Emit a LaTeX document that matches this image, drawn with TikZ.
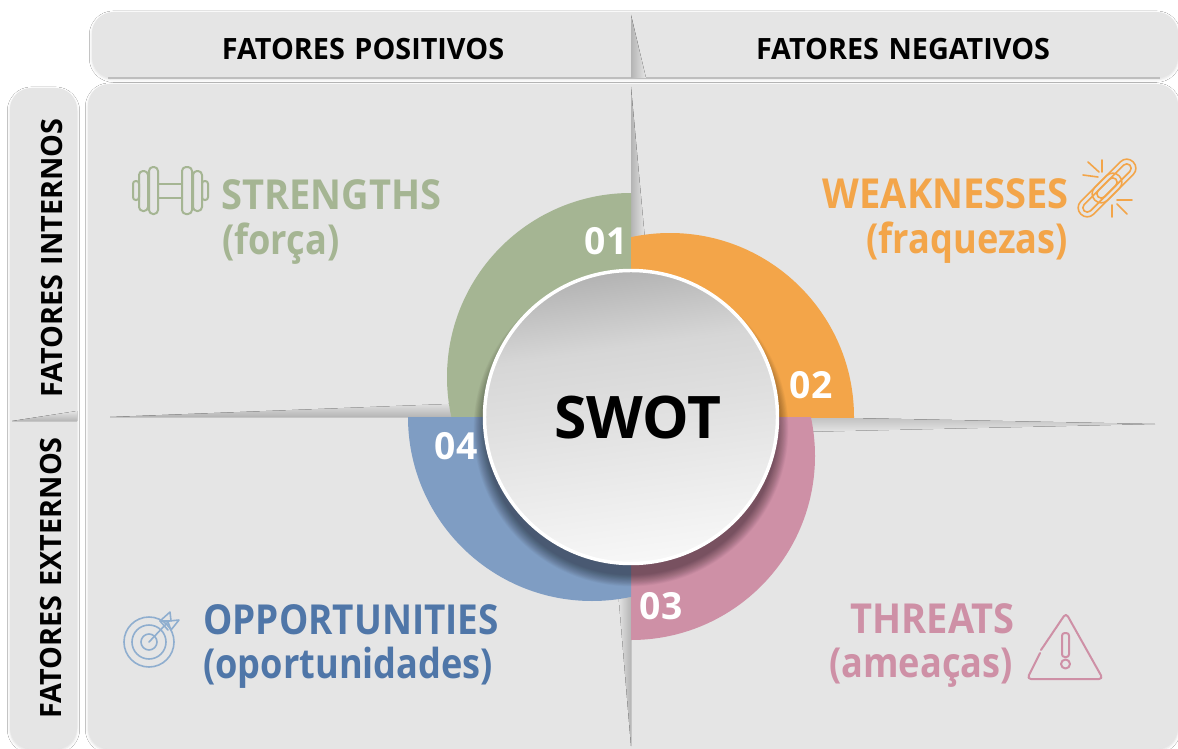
\documentclass[tikz,border=0pt]{standalone}
\usepackage{fontspec}
\setmainfont{Open Sans}
\newfontfamily\headfont[FakeStretch=0.98]{Open Sans}
\newfontfamily\capsfont[FakeStretch=0.92]{Open Sans}
\newfontfamily\oppfont[FakeStretch=0.893]{Open Sans}
\newfontfamily\lowerfont[FakeStretch=0.875]{Open Sans}
\usetikzlibrary{positioning,shadows.blur,calc}
\definecolor{panelgray}{HTML}{E5E5E5}
\definecolor{creasegray}{HTML}{B4B4B4}
\definecolor{sgreen}{HTML}{A5B593}
\definecolor{worange}{HTML}{F3A549}
\definecolor{tpink}{HTML}{CE90A6}
\definecolor{oblue}{HTML}{7F9DC3}
\definecolor{oblueText}{HTML}{4F76A8}
\definecolor{oblueIcon}{HTML}{8FAECF}
\pgfdeclareverticalshading{discshade}{100bp}{color(0bp)=(white!97!black); color(25bp)=(white!97!black); color(50bp)=(white!88!black); color(62bp)=(white!84!black); color(75bp)=(white!70!black); color(100bp)=(white!70!black)}
\newcommand{\wordgap}{\hspace{0.33em}}
\tikzset{
  panel/.style={fill=panelgray,rounded corners=16pt,blur shadow={shadow xshift=0pt,shadow yshift=-1.2pt,shadow blur radius=2pt,shadow opacity=13}},
  headtext/.style={font=\headfont\bfseries\fontsize{22}{26}\selectfont,text=black,inner sep=0pt},
  capstext/.style={font=\capsfont\bfseries\fontsize{31}{37}\selectfont,inner sep=0pt},
  lowertext/.style={font=\lowerfont\bfseries\fontsize{31}{37}\selectfont,inner sep=0pt},
  numtext/.style={font=\bfseries\fontsize{28}{32}\selectfont,text=white,inner sep=0pt},
  icon/.style={line width=1.5pt,line cap=round,line join=round},
}
\begin{document}
\begin{tikzpicture}[x=0.75pt,y=-0.75pt]
  \useasboundingbox (0,0) rectangle (1178,749);
  \fill[white] (0,0) rectangle (1178,749);
  \clip (0,0) rectangle (1178,749);

  \path[panel] (92,12) rectangle (1178,78);
  \path[panel] (10,88) rectangle (77,749);
  \path[panel] (88,84) rectangle (1178,749);
  \draw[creasegray!80!panelgray,line width=0.8pt] (108,78) -- (1160,78);

  \fill[left color=creasegray,right color=panelgray] (631,15) -- (631,78) -- (646,78) -- cycle;
  \fill[left color=creasegray,right color=panelgray] (631,87) -- (631,240) -- (645,240) -- cycle;
  \fill[left color=panelgray,right color=creasegray] (631,590) -- (631,746) -- (618,590) -- cycle;
  \fill[top color=panelgray,bottom color=creasegray] (110,417) -- (500,417) -- (500,402) -- cycle;
  \fill[top color=creasegray!75!panelgray,bottom color=panelgray] (800,417) -- (1155,424) -- (800,432) -- cycle;
  \fill[top color=panelgray,bottom color=creasegray] (12,421) -- (77,421) -- (77,411) -- cycle;

  \begin{scope}
    \clip (400,150) rectangle (631,417);
    \fill[sgreen] (631,377) circle[radius=184];
  \end{scope}
  \begin{scope}
    \clip (631,200) rectangle (880,417);
    \fill[worange] (670,417) circle[radius=184];
  \end{scope}
  \begin{scope}
    \clip (631,417) rectangle (830,660);
    \fill[tpink] (631,456) circle[radius=184];
  \end{scope}
  \begin{scope}
    \clip (380,417) rectangle (631,620);
    \fill[oblue] (592,417) circle[radius=184];
  \end{scope}

  \foreach \r in {146,146.6,...,158}
    \fill[black,opacity=0.022] (631,429) circle[radius=\r];

  \path[draw=white,line width=2.6pt,shading=discshade,shading angle=8] (631,417) circle[radius=146.5];

  \node[headtext] (positivos) at (363,49) {FATORES\wordgap POSITIVOS};
  \node[headtext] (negativos) at (903,49) {FATORES\wordgap NEGATIVOS};
  \node[headtext,rotate=90] (internos) at (52,258) {FATORES\wordgap INTERNOS};
  \node[headtext,rotate=90] (externos) at (51,578) {FATORES\wordgap EXTERNOS};

  \node[capstext,text=sgreen,anchor=base west] (strengths) at (221,209) {STRENGTHS};
  \node[lowertext,text=sgreen,anchor=base west] (forca) at (222,254) {(força)};
  \node[capstext,text=worange,anchor=base east] (weak) at (1069,208) {WEAKNESSES};
  \node[lowertext,text=worange,anchor=base east] (fraq) at (1068,253) {(fraquezas)};
  \node[capstext,font=\oppfont\bfseries\fontsize{31}{37}\selectfont,text=oblueText,anchor=base west] (opp) at (203,634) {OPPORTUNITIES};
  \node[lowertext,text=oblueText,anchor=base west] (oport) at (203,678) {(oportunidades)};
  \node[capstext,text=tpink,anchor=base east] (threats) at (1015,633) {THREATS};
  \node[lowertext,text=tpink,anchor=base east] (ameacas) at (1013,677) {(ameaças)};

  \node[font=\bfseries\fontsize{44}{50}\selectfont,inner sep=0pt] (swot) at (638,418) {SWOT};
  \node[numtext] (n01) at (606,241) {01};
  \node[numtext] (n02) at (811,385) {02};
  \node[numtext] (n03) at (661,606) {03};
  \node[numtext] (n04) at (456,446) {04};

  % dumbbell
  \begin{scope}[icon,draw=sgreen]
    \draw[rounded corners=2pt] (133,181) rectangle (139,200);
    \draw[rounded corners=3pt] (139,171) rectangle (148,211);
    \draw[rounded corners=3pt] (149,167) rectangle (158,214);
    \draw[rounded corners=3pt] (182,167) rectangle (192,214);
    \draw[rounded corners=3pt] (193,171) rectangle (202,211);
    \draw[rounded corners=2pt] (202,181) rectangle (208,200);
    \draw (158,184) -- (182,184) (158,198) -- (182,198);
  \end{scope}

  % broken link
  \begin{scope}[icon,draw=worange,line width=1.2pt]
    \foreach \cx/\cy in {1114/181,1100/195} {
      \draw[rotate around={45:(\cx,\cy)},rounded corners=6.5pt] (\cx-27,\cy-9) rectangle (\cx+27,\cy+9);
      \draw[rotate around={45:(\cx,\cy)},rounded corners=3.5pt] (\cx-22.5,\cy-4.5) rectangle (\cx+22.5,\cy+4.5);
    }
    \draw (1088,162) -- (1099,172) (1102,160) -- (1102,172) (1083,175) -- (1098,177);
    \draw (1117,204) -- (1127,214) (1112,205) -- (1112,217) (1117,200) -- (1132,200);
  \end{scope}

  % target
  \begin{scope}[icon,draw=oblueIcon,line width=1.2pt]
    \draw (149,642) circle[radius=25];
    \draw (149,642) circle[radius=17];
    \draw (149,642) circle[radius=8];
    \draw (149,642) -- (169,621);
    \draw (169,621) -- (160,621) -- (170,612) -- (171,621);
    \draw (169,621) -- (179,620) -- (171,630) -- (168,622);
    \draw (160,621) -- (168,630);
  \end{scope}

  % warning sign
  \begin{scope}[icon,draw=tpink]
    \draw[rounded corners=3pt] (1041,650) -- (1066,613) -- (1103,679) -- (1027,679) -- (1040,653);
    \draw[rounded corners=2pt] (1062,633) rectangle (1069,657);
    \draw (1065.5,664) circle[radius=4.5];
  \end{scope}
\end{tikzpicture}
\end{document}
